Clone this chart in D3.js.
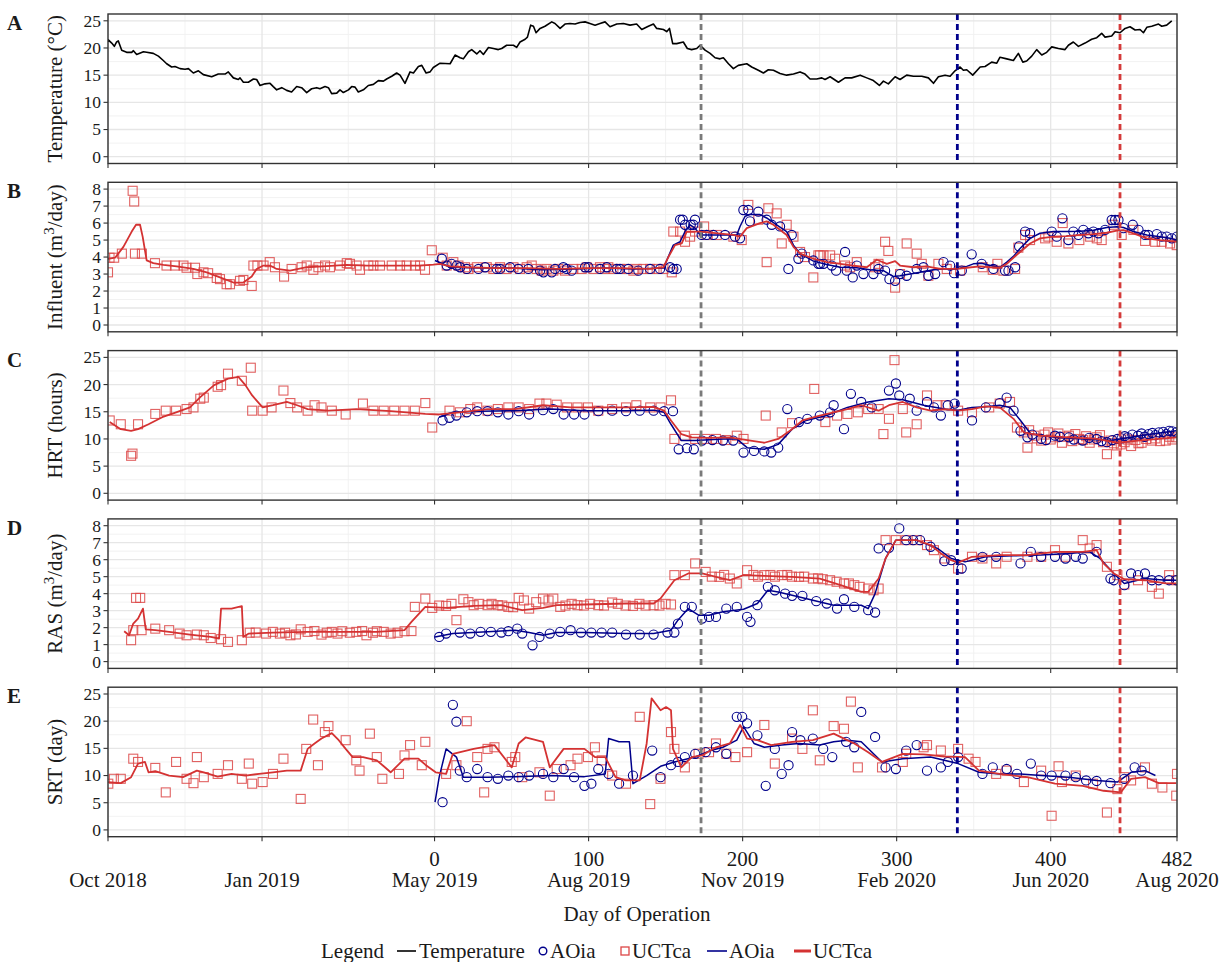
<!DOCTYPE html>
<html>
<head>
<meta charset="utf-8">
<script src="https://cdn.jsdelivr.net/npm/d3@7"></script>
<style>
  body { margin: 0; background: #fff; }
  svg { display: block; }
</style>
</head>
<body>
<svg id="chart" width="1225" height="962"></svg>
<script>
// ---------- x axis: day of operation (0 = start of operation) ----------
const xTickDays   = [-212, -112, 0, 100, 200, 300, 400, 482];
const xDayLabels  = ["", "", "0", "100", "200", "300", "400", "482"];
const xDateLabels = ["Oct 2018", "Jan 2019", "May 2019", "Aug 2019", "Nov 2019", "Feb 2020", "Jun 2020", "Aug 2020"];
// phase boundaries (day)
const phaseDays = [173, 339.4, 445];

// ---------- A: temperature (°C) ----------
const temperature = [
[-212,21.1],[-211.8,21.5],[-209.6,20.9],[-207.9,20.3],[-206.4,21.1],[-205.3,21.3],[-203.1,19.6],[-199.9,19.2],[-196.6,19.2],[-195.5,19.5],[-193.4,18.8],[-189,19.3],[-186.9,19.2],[-182.6,19.0],[-179.3,18.5],[-176.1,17.7],[-173.9,17.1],[-170.7,16.5],[-168.5,16.6],[-165.2,16.2],[-162,16.1],[-159.8,16.2],[-156.6,15.4],[-153.3,15.8],[-150.1,15.1],[-144.7,14.7],[-140.4,15.2],[-136,15.2],[-133.9,15.6],[-130.6,14.5],[-127.4,14.2],[-126.3,14.5],[-124.1,13.7],[-120.9,13.7],[-117.6,14.3],[-115.5,14.2],[-113.3,13.1],[-110.1,13.4],[-106.8,13.5],[-104.7,12.9],[-102.5,12.3],[-99.2,12.7],[-96,12.2],[-92.8,11.9],[-89.5,12.9],[-86.3,12.7],[-83,11.8],[-79.8,12.5],[-76.5,12.7],[-74.4,12.5],[-71.1,12.9],[-68.9,12.7],[-66.8,11.6],[-63.5,11.7],[-61.4,12.3],[-59.2,11.8],[-55.9,12.3],[-53.8,12.9],[-51.6,12.8],[-49.5,11.9],[-46.2,12.3],[-43,13.1],[-39.7,13.3],[-36.5,14.0],[-33.2,13.9],[-31.1,14.3],[-27.8,14.8],[-24.6,15.4],[-22.4,15.0],[-19.2,13.5],[-15.9,15.6],[-13.7,15.4],[-10.5,16.6],[-8.3,16.8],[-5.5,15.4],[-2.9,15.6],[-0.8,16.4],[3.6,17.2],[10.1,17.1],[13.3,18.7],[16.6,18.2],[18.7,18.0],[22,19.3],[24.1,19.7],[27.4,18.9],[29.5,19.5],[31.7,18.8],[35,20.1],[38.2,19.9],[41.4,19.7],[43.6,19.9],[46.8,20.5],[51.2,20.5],[53.3,20.1],[55.5,21.1],[58.8,21.6],[60.3,22.0],[62.4,24.2],[64.2,24.0],[65.9,22.8],[68.5,23.6],[71.7,24.0],[76.1,24.8],[78.2,24.5],[81.5,23.6],[84.7,24.4],[87.9,24.5],[91.2,24.4],[94.4,24.7],[97.7,24.8],[100.9,24.5],[104.2,24.2],[107.4,24.5],[110.7,24.8],[113.9,23.9],[118.3,24.4],[122.6,24.5],[126.9,24.2],[131.2,24.4],[134.5,23.4],[138.8,24.0],[142.1,24.4],[144.2,23.6],[148.6,23.4],[150.7,23.0],[152.5,23.6],[154.6,20.8],[157.2,20.8],[161.5,21.1],[164.1,19.9],[166.9,19.7],[170.2,19.9],[172.4,20.5],[175.6,19.6],[178.9,19.0],[182.1,18.2],[185.3,18.0],[187.5,18.2],[190.8,17.1],[194,16.2],[197.2,16.8],[202.7,17.1],[205.9,16.5],[210.2,15.9],[213.5,15.4],[216.7,16.0],[220,15.9],[224.3,15.3],[228.6,15.0],[233,15.2],[237.3,15.6],[240.5,15.2],[243.8,14.3],[248.1,14.3],[251.4,14.5],[253.5,14.2],[256.8,14.7],[262.2,13.7],[266.5,14.5],[270.8,14.5],[276.3,15.0],[280.6,14.5],[284.9,14.0],[288.8,13.1],[291.4,13.9],[294.6,13.4],[299,14.7],[302.2,14.2],[306.5,15.0],[310.9,14.8],[316.3,14.8],[320.6,14.5],[323.9,13.5],[327.1,14.7],[331.4,15.0],[334.7,14.8],[337.9,15.8],[341.2,16.5],[343.3,15.9],[345.5,16.0],[349.4,15.0],[354.2,16.5],[357.4,16.6],[361.7,17.4],[365,17.2],[367.1,18.3],[371.5,18.0],[375.8,17.7],[379,19.0],[381.9,17.4],[384.4,17.6],[387.7,18.5],[390.9,19.7],[394.2,18.7],[397.4,19.2],[400.7,20.2],[405,19.9],[409.3,19.7],[411.5,20.5],[414.7,21.1],[418,20.3],[422.3,20.9],[426.6,21.6],[429.9,21.9],[433.1,22.7],[435.3,22.0],[439.6,22.2],[441.8,23.0],[445,22.8],[448.3,23.6],[451.5,23.9],[454.8,23.3],[458,23.4],[460.2,22.8],[462.4,23.8],[465.6,24.0],[470,24.4],[472.1,24.0],[475.3,24.2],[478.6,25.0]
];

// ---------- B: influent (m3/day) ----------
const influentUCTca = [
[-212,3.1],[-211,3.96],[-208,3.96],[-203,4.2],[-196,7.9],[-195,7.27],[-194.5,4.2],[-190,4.2],[-181.5,3.64],[-174,3.5],[-168.5,3.5],[-163,3.5],[-161,3.37],[-155.5,3.37],[-154,3.0],[-150,3.1],[-147,3.05],[-141.4,2.77],[-139.3,2.7],[-135,2.4],[-132.8,2.4],[-126.3,2.6],[-124.1,2.65],[-118.7,2.3],[-117.6,3.5],[-115,3.5],[-111,3.5],[-107,3.7],[-103.6,3.4],[-97.7,2.85],[-92.8,3.3],[-86.3,3.4],[-83,3.5],[-78.7,3.25],[-75.4,3.4],[-71.1,3.5],[-67.9,3.4],[-61.4,3.5],[-57,3.64],[-54.9,3.6],[-50.6,3.5],[-48.4,3.25],[-43,3.5],[-39.7,3.5],[-35.4,3.5],[-27.8,3.5],[-22.4,3.5],[-18.1,3.5],[-12.7,3.5],
[-9.4,3.5],[-6.2,3.25],[-1.8,4.4],[5.3,3.96],[7.9,3.5],[12.2,3.7],[15.5,3.5],[19.8,3.4],[22,3.3],[27.4,3.4],[33.9,3.4],[38.2,3.3],[42.5,3.4],[46.8,3.3],[51.2,3.4],[55.5,3.3],[59.8,3.4],[63.1,3.5],[66.3,3.3],[69.6,3.2],[72.8,3.3],[77.1,3.2],[80.4,3.3],[84.7,3.2],[90.1,3.3],[95.5,3.3],[98.8,3.4],[103.1,3.3],[107.4,3.4],[110.7,3.3],[112.8,3.4],[116.1,3.3],[120.4,3.3],[124.8,3.3],[129.1,3.2],[131.2,3.3],[135.6,3.3],[139.9,3.3],[144.2,3.3],[148.6,3.3],[154,3.1],
[155,5.5],[159.4,5.5],[162.6,4.9],[165.9,5.2],[169.1,5.5],[175,5.8],[176.7,5.3],[183.2,5.3],[194,5.2],[199.4,5.0],[203.7,7.07],[210.2,6.2],[216.7,6.87],[222.1,6.57],[215.6,3.7],[225.4,4.8],[228.6,5.9],[233,5.2],[237.3,4.3],[240.5,4.0],[245.9,2.8],[249.2,4.1],
[250.3,4.1],[252.5,4.1],[256.8,4.1],[260,3.9],[266.5,3.5],[269.8,3.4],[274.1,3.7],[286,3.4],[288.2,3.6],[292.5,4.9],[294.6,4.36],[299,2.2],[302.2,3.0],[306.5,4.8],[313,4.2],[316.3,3.6],[320.6,2.9],[327.1,3.6],[332.5,3.3],[341.2,3.2],[355.9,3.4],[362.4,3.25],[365.4,3.6],[369.3,3.2],[376.9,3.3],[379,4.55],[383.4,5.3],[386.6,5.0],[396.4,5.1],[398.5,5.2],[403.9,4.9],[407.8,6.0],[411.5,4.8],[418.6,5.0],[425.6,5.2],[429.9,5.1],[433.1,5.0],[440.7,5.9],[446.1,5.3],[453.7,5.6],[461.3,4.95],[467.8,4.9],[472.1,4.9],[477.5,4.8],[481.8,4.7]
];
const influentAOia = [
[4.7,3.9],[7.9,3.5],[11.1,3.6],[14.4,3.5],[16.6,3.4],[20.9,3.3],[28.5,3.3],[32.8,3.4],[40.4,3.3],[42.5,3.3],[49,3.4],[54.4,3.3],[60.9,3.3],[68.5,3.2],[70.7,3.1],[76.1,3.1],[78.2,3.3],[83.6,3.4],[85.8,3.3],[89,3.2],[97.7,3.4],[99.9,3.4],[107.4,3.3],[111.8,3.4],[118.3,3.3],[120.4,3.3],[125.8,3.3],[132.3,3.2],[139.9,3.3],[146.4,3.3],[152.9,3.4],[155,3.3],[157.2,3.3],
[159.4,6.2],[161.1,6.2],[169.1,6.2],[162.6,5.9],[166.3,5.9],[168,5.9],[173.4,5.3],[176.7,5.3],[181,5.3],[188.6,5.3],[195.1,5.2],[198.3,5.1],[200.5,6.77],[203.7,6.77],[204.8,6.1],[210.2,6.67],[215.6,6.2],[218.9,5.9],[224.3,5.8],[229.7,3.3],[231.9,5.3],[236.2,3.9],[238.4,4.2],[245.9,3.8],[249.2,3.6],
[250.3,3.6],[252.5,3.6],[257.9,3.5],[260.7,3.2],[266.5,4.3],[267.6,3.2],[271.5,2.8],[274.1,3.5],[278.4,3.0],[284.9,3.0],[288.2,3.3],[292.5,3.2],[295.3,2.7],[299,2.6],[302.2,3.0],[306.5,2.9],[313,3.3],[317.4,3.4],[320.6,2.9],[325,3.0],[330.4,3.7],[334.7,3.5],[337.3,3.05],[342.3,3.2],[348.7,4.16],[355.2,3.6],[362.8,3.3],[370.4,3.2],[372.6,3.2],[376.9,3.4],[379.5,4.63],[383.4,5.5],[386.6,5.4],[400.7,5.5],[403.9,5.2],[407.6,6.28],[411.5,5.0],[414.7,5.5],[418,5.3],[421.2,5.6],[424.5,5.4],[427.7,5.5],[431,5.4],[435.3,5.6],[439.6,6.18],[441.8,6.18],[444,6.18],[447.2,5.7],[453.3,5.9],[457,5.6],[461.3,5.3],[463.4,5.3],[468.9,5.35],[472.1,5.2],[475.3,5.2],[478.6,5.1],[482,5.2]
];
const influentUCTcaLine = [
[-212,3.9],[-207.4,3.96],[-202,4.6],[-196.6,5.5],[-193.8,5.9],[-191.2,5.9],[-189.5,5.2],[-186.9,3.8],[-182.6,3.64],[-176.1,3.54],[-167.4,3.45],[-156.6,3.3],[-147.9,3.1],[-139.3,2.8],[-130.6,2.5],[-124.1,2.5],[-118.7,2.85],[-115.5,3.3],[-111.1,3.5],[-106.8,3.5],[-102.5,3.3],[-93.8,3.2],[-83,3.4],[-70,3.47],[-57,3.54],[-44,3.5],[-9.4,3.5],
[-0.8,3.55],[3.6,3.6],[10.1,3.45],[20.9,3.4],[40,3.35],[60,3.35],[80,3.3],[100,3.35],[120,3.35],[140,3.3],[148.6,3.4],[151.8,4.0],[156.1,4.7],[160.5,4.8],[163.7,5.5],[172.4,5.5],[194,5.3],[198.3,5.2],[202.7,5.7],[211.3,6.0],[215.6,6.1],[220,5.9],[228.6,5.3],[233,4.6],[237.3,4.2],
[246,3.9],[254.6,3.7],[263.3,3.6],[271.9,3.5],[280.6,3.4],[287.1,3.84],[293.6,3.6],[299,3.76],[302.2,3.5],[310.9,3.4],[319.5,3.45],[328.2,3.3],[339,3.3],[345.5,3.37],[354.2,3.45],[360.6,3.4],[367.1,3.37],[371.5,3.6],[375.8,3.96],[380.1,4.3],[386.6,4.8],[393.1,5.1],[401.8,5.2],[410.4,5.23],[419.1,5.3],[427.7,5.35],[436.4,5.43],[442.9,5.55],[447.2,5.58],[453.7,5.39],[462.4,5.1],[471,5.0],[482,4.9]
];
const influentAOiaLine = [
[0.3,3.8],[10.1,3.4],[30,3.35],[50,3.35],[70,3.25],[90,3.3],[110,3.35],[130,3.3],[148.6,3.35],[150.7,3.8],[155,4.7],[159.4,4.9],[162.6,5.5],[165.9,5.9],[169.1,5.7],[172.4,5.3],[196.2,5.3],[198.3,5.8],[201.6,6.4],[204.8,6.5],[211.3,6.5],[215.6,6.3],[222.1,5.9],[228.6,5.5],[233,4.7],[237.3,4.2],
[246,3.76],[254.6,3.56],[263.3,3.4],[274.1,3.37],[282.7,3.25],[291.4,3.2],[297.9,2.85],[302.2,2.9],[308.7,3.0],[315.2,3.1],[323.9,3.25],[330.4,3.3],[339,3.3],[345.5,3.45],[349.8,3.6],[355.2,3.64],[360.6,3.5],[367.1,3.4],[371.5,3.7],[375.8,4.04],[380.1,4.5],[386.6,5.1],[393.1,5.4],[401.8,5.5],[410.4,5.5],[419.1,5.52],[427.7,5.58],[436.4,5.74],[442.9,5.78],[447.2,5.74],[453.7,5.5],[462.4,5.3],[471,5.2],[477.5,5.1],[482,5.0]
];

// ---------- C: HRT (hours) ----------
const hrtUCTca = [
[-210.9,13.4],[-203.7,12.7],[-197,6.9],[-196.1,7.3],[-192.5,12.7],[-181.3,14.6],[-174.5,15.2],[-167.8,15.2],[-161,15.5],[-156.5,15.8],[-152.1,17.4],[-149.8,17.6],[-140.8,19.6],[-138.6,19.9],[-134.1,22.0],[-125.1,20.7],[-119.3,23.1],[-118.4,15.2],[-111.6,15.2],[-105.8,15.8],[-98.1,18.9],[-93.6,16.6],[-89.2,15.8],[-82.4,15.2],[-77.9,16.2],[-73.4,15.8],[-66.7,15.2],[-57.7,14.5],[-46.5,16.5],[-39.7,15.2],[-33,15.2],[-26.2,15.2],[-19.5,15.2],[-12.8,15.2],[-6,16.6],[-1.5,12.1],[9.7,15.2],[16.4,14.9],[23.2,15.5],[27.7,15.8],[34.4,15.2],[41.1,15.5],[47.9,15.8],[54.6,15.8],[61.4,15.5],[68.1,16.5],[72.6,16.5],[79.3,16.3],[86.1,15.8],[92.8,15.8],[99.6,15.8],[106.3,15.2],[115.3,15.5],[124.3,15.8],[131,16.2],[140,15.8],[146.7,15.8],[153.5,17.1],[155.7,10.0],[162.5,10.6],[169.2,10.0],[176,10.0],[182.7,10.0],[189.4,9.8],[196.2,10.6],[200.6,10.0],[215,14.3],[225.4,11.2],[232.1,12.9],[246.5,19.2],[253.7,13.1],[261.3,14.3],[268,14.6],[274.8,14.9],[281.5,15.5],[288.3,15.5],[291.4,10.9],[295,13.7],[298.6,24.5],[304,15.5],[306.2,11.2],[313,12.7],[319.7,18.0],[326.5,16.2],[331.8,16.2],[339.9,15.2],[348.9,14.9],[360.1,15.8],[366.9,16.5],[373.6,16.8],[378.1,12.1],[382.6,11.2],[384.9,8.4],[389.4,10.6],[393.8,9.7],[398.3,11.2],[402.8,10.3],[407.3,9.3],[411.8,10.6],[418.5,10.0],[425.3,9.3],[429.8,10.3],[436.5,7.2],[438.8,9.7],[445.5,9.0],[452.2,8.7],[459,9.3],[465.7,9.7],[474.7,9.7],[481.5,10.3],
[386,11.6],[391,10.1],[396,10.8],[400,9.9],[405,11.0],[409,10.4],[414,9.6],[416,10.9],[421,9.8],[423,10.5],[428,9.9],[432,10.7],[434,9.4],[441,9.2],[443,8.8],[448,9.4],[450,9.9],[455,9.8],[457,9.2],[462,10.0],[468,10.1],[471,9.6],[477,10.4],[479,9.9]
];
const hrtAOia = [
[5.2,13.4],[9.7,13.9],[14.2,14.3],[20.9,14.9],[27.7,15.1],[34.4,15.1],[41.1,14.9],[47.9,14.5],[54.6,15.1],[61.4,14.5],[70.4,15.3],[77.1,15.5],[83.8,14.5],[90.6,14.5],[97.3,14.5],[106.3,15.1],[115.3,15.2],[124.3,15.1],[133.2,15.2],[142.2,15.2],[149,15.1],[154.8,15.1],[158.5,8.1],[163.8,8.3],[168.3,8.1],[173.7,9.7],[180.4,9.8],[187.2,9.7],[193.9,9.7],[200.6,7.5],[207.4,7.8],[214.1,7.7],[218.6,7.5],[223.1,8.4],[229,15.5],[236.6,13.1],[242,13.7],[250.1,14.3],[256.8,14.9],[259.1,16.2],[265.8,11.8],[270.3,18.3],[277,16.8],[283.8,15.8],[295,18.9],[299.5,20.2],[301.7,18.0],[308.5,17.4],[313,15.2],[319.7,16.8],[324.2,15.8],[328.7,14.3],[333.2,16.2],[337.7,16.5],[348.9,13.4],[357.9,15.8],[366.9,16.6],[371.4,17.6],[375.9,15.2],[380.4,11.5],[384.9,10.3],[393.8,10.0],[402.8,10.6],[411.8,10.3],[420.8,9.7],[429.8,10.0],[436.5,9.4],[443.3,10.0],[450,10.3],[456.7,10.6],[463.5,10.9],[470.2,11.2],[476.9,11.5],[481.5,11.2],
[388,10.8],[397,9.8],[406,10.4],[415,9.9],[425,10.2],[433,9.6],[440,9.8],[446,10.1],[448,10.5],[453,10.8],[459,11.0],[461,10.4],[466,11.1],[468,10.7],[473,11.3],[475,10.9],[479,11.4]
];
const hrtUCTcaLine = [
[-210.9,13.1],[-203.7,11.8],[-197,11.5],[-192.5,11.8],[-185.7,12.7],[-176.8,14.0],[-167.8,14.9],[-158.8,15.8],[-152.1,17.7],[-143.1,19.9],[-134.1,21.1],[-127.3,21.4],[-122.8,19.9],[-118.4,18.0],[-111.6,15.8],[-104.9,16.2],[-95.9,16.8],[-89.2,16.2],[-82.4,15.5],[-68.9,15.2],[-50.8,15.5],[-28.5,15.1],[-6,14.6],[3,14.5],[16.4,14.9],[34.4,15.5],[52.4,15.5],[70.4,16.2],[88.3,15.8],[106.3,15.8],[124.3,15.8],[142.2,15.9],[149,15.2],[153.5,13.4],[160.2,10.9],[167,10.3],[178.2,10.2],[191.7,10.3],[205.1,9.7],[214.1,9.3],[223.1,10.0],[232.1,11.8],[238.8,13.4],[250.1,14.3],[259.1,14.9],[268,15.5],[277,16.2],[288.3,15.2],[295,16.2],[304,16.8],[313,15.8],[322,15.2],[331,15.5],[339.9,15.2],[348.9,15.5],[357.9,16.0],[366.9,15.8],[375.9,13.7],[382.6,11.2],[393.8,10.6],[411.8,10.3],[429.8,10.0],[443.3,9.3],[456.7,9.7],[470.2,10.0],[481.5,10.3]
];
const hrtAOiaLine = [
[3,14.0],[11.9,14.9],[29.9,15.1],[52.4,15.2],[74.8,15.5],[97.3,15.2],[124.3,15.2],[142.2,15.3],[149,14.9],[153.5,12.7],[160.2,9.7],[169.2,9.7],[187.2,10.0],[196.2,10.0],[202.9,8.4],[214.1,8.1],[223.1,9.0],[232.1,11.8],[241.1,13.4],[254.6,14.3],[268,15.8],[281.5,16.8],[295,17.4],[304,17.2],[317.5,16.2],[331,15.5],[339.9,15.3],[348.9,15.8],[357.9,15.9],[366.9,16.2],[373.6,15.8],[380.4,13.4],[387.1,10.9],[402.8,10.3],[420.8,10.0],[438.8,9.7],[452.2,10.3],[465.7,10.9],[481.5,11.5]
];

// ---------- D: RAS (m3/day) ----------
const rasUCTca = [
[-197,1.26],[-195.6,1.85],[-193.8,3.75],[-191.1,3.75],[-190.2,1.85],[-181.3,1.94],[-172.3,1.85],[-165.5,1.65],[-161,1.55],[-154.3,1.59],[-149.8,1.55],[-145.3,1.39],[-138.6,1.32],[-134.1,1.16],[-125.1,1.26],[-120,1.7],[-116.1,1.71],[-109.4,1.65],[-105,1.75],[-100.4,1.65],[-97,1.7],[-93.6,1.55],[-90,1.6],[-86.9,1.9],[-82.4,1.75],[-78,1.8],[-73.4,1.59],[-70,1.7],[-66.7,1.75],[-63,1.65],[-59.9,1.79],[-55,1.7],[-50.8,1.75],[-47,1.8],[-44.2,1.55],[-40,1.7],[-37.5,1.79],[-33,1.75],[-28.5,1.65],[-24,1.7],[-19.5,1.79],[-15,1.8],
[-12.8,3.22],[-6,3.71],[-1.5,3.16],[3,3.3],[7.5,3.28],[11,3.4],[14.2,2.44],[18.7,3.67],[22,3.5],[25.4,3.32],[29,3.4],[34.4,3.32],[37,3.4],[41.1,3.32],[44,3.3],[47.9,3.22],[51,3.2],[54.6,3.75],[58,3.6],[61.4,3.12],[66,3.5],[70.4,3.71],[74,3.6],[77.1,3.71],[81.6,3.22],[85,3.3],[89,3.4],[92.8,3.32],[97,3.3],[101,3.4],[106.3,3.32],[110,3.3],[115.3,3.48],[119,3.4],[124,3.3],[128.8,3.28],[133,3.4],[137,3.3],[142.2,3.32],[146,3.3],[150,3.4],[153.5,3.36],
[155.7,5.09],[162.5,5.09],[169.2,5.78],[176,5.28],[180,5.0],[184.9,4.99],[188,5.1],[191.7,4.89],[196.2,4.6],[202.9,5.38],[207,5.1],[210,5.0],[214.1,5.09],[218,5.1],[221,5.0],[225.4,5.09],[229,5.1],[232,5.0],[236.6,4.99],[240,5.0],[245.6,4.89],[249,4.9],[252,4.85],[256.8,4.79],[261,4.7],[265.8,4.6],[269,4.6],[272.5,4.5],[276,4.4],[281.5,4.3],[285,4.2],[288.3,4.3],
[292.8,7.15],[299.5,7.15],[306.2,7.15],[313,7.15],[319.7,6.86],[324.2,6.56],[331,6.07],[339.9,5.48],[348.9,6.17],[355.7,6.07],[364.6,5.78],[371.4,6.17],[384.9,6.17],[393.8,6.17],[402.8,6.56],[409.6,6.17],[420.8,7.15],[425.3,6.66],[429.8,6.86],[436.5,5.58],[443.3,5.09],[447.8,4.54],[456.7,4.79],[465.7,4.4],[470.2,4.0],[476.9,5.09],[481.5,4.79]
];
const rasAOia = [
[3,1.45],[7.5,1.65],[16.4,1.71],[23.2,1.65],[29.9,1.75],[36.6,1.75],[43.4,1.71],[47.9,1.79],[53.7,1.94],[56.9,1.65],[63.6,0.96],[68.1,1.45],[74.8,1.65],[81.6,1.75],[88.3,1.85],[95.1,1.71],[101.8,1.71],[108.5,1.71],[115.3,1.71],[124.3,1.59],[133.2,1.59],[142.2,1.59],[151.2,1.71],[155.7,1.71],[158,2.24],[162.5,3.22],[167,3.22],[173.7,2.53],[178.2,2.63],[182.7,2.63],[189.4,3.12],[196.2,3.22],[202.9,2.63],[205.1,2.34],[209.6,3.32],[216.4,4.4],[220.9,4.2],[227.6,4.0],[232.1,3.87],[238.8,3.87],[247.8,3.56],[254.6,3.42],[261.3,3.12],[265.8,3.67],[272.5,3.22],[281.5,3.03],[286,2.89],[288.3,6.66],[295,6.7],[301.7,7.84],[306.2,7.15],[310.7,7.15],[315.2,7.15],[322,6.76],[331,5.91],[335.4,5.97],[342.2,5.48],[355.7,6.17],[364.6,6.17],[380.4,5.78],[387.1,6.46],[393.8,6.17],[402.8,6.17],[409.6,6.07],[416.3,6.17],[420.8,6.07],[429.8,6.46],[438.8,4.89],[441,4.79],[447.8,4.5],[452.2,5.19],[456.7,5.09],[461.2,5.19],[465.7,4.79],[470.2,4.79],[476.9,4.79],[481.5,4.79]
];
const rasUCTcaLine = [
[-201.5,1.79],[-198.3,1.55],[-195.6,2.24],[-192.5,2.53],[-189.3,3.12],[-187.5,1.9],[-181.3,1.85],[-172.3,1.75],[-158.8,1.59],[-145.3,1.45],[-139.9,1.36],[-138.6,3.12],[-131.8,3.12],[-125.1,3.26],[-124.2,1.45],[-120.6,1.65],[-104.9,1.71],[-82.4,1.75],[-59.9,1.75],[-37.5,1.75],[-19.5,1.85],[-15,2.34],[-6,3.22],[7.5,3.16],[25.4,3.28],[43.4,3.32],[52.4,3.12],[56.9,3.03],[70.4,3.16],[79.3,3.32],[97.3,3.36],[124.3,3.42],[142.2,3.42],[146.7,3.71],[155.7,4.79],[164.7,5.19],[173.7,5.19],[182.7,4.99],[191.7,4.79],[200.6,5.09],[214.1,5.05],[232.1,4.99],[250.1,4.89],[263.6,4.5],[277,4.1],[281.5,4.1],[288.3,4.89],[292.8,6.07],[299.5,7.15],[313,7.15],[322,6.86],[328.7,6.37],[335.4,5.97],[339.9,5.83],[348.9,6.17],[366.9,6.27],[384.9,6.27],[402.8,6.46],[420.8,6.46],[429.8,6.56],[434.3,5.78],[441,5.19],[447.8,4.85],[461.2,4.79],[474.7,4.6],[481.5,4.6]
];
const rasAOiaLine = [
[0.3,1.45],[11.9,1.65],[34.4,1.75],[52.4,1.85],[61.4,1.71],[70.4,1.55],[79.3,1.71],[97.3,1.71],[124.3,1.65],[142.2,1.65],[153.5,1.85],[158,2.44],[164.7,3.12],[171.4,2.73],[178.2,2.73],[187.2,2.93],[200.6,3.08],[209.6,3.42],[216.4,4.2],[223.1,4.1],[232.1,3.91],[245.6,3.61],[259.1,3.32],[277,3.32],[281.5,3.12],[286,4.0],[292.8,6.07],[299.5,7.15],[313,7.15],[326.5,6.66],[335.4,6.07],[344.4,5.87],[357.9,6.17],[375.9,6.23],[393.8,6.27],[411.8,6.37],[425.3,6.46],[432,6.07],[441,5.19],[447.8,4.6],[461.2,4.89],[474.7,4.79],[481.5,4.79]
];

// ---------- E: SRT (day) ----------
const srtUCTca = [
[-211.8,8.5],[-208.2,9.4],[-203.7,9.4],[-195.6,13.1],[-192.5,12.5],[-181.3,11.4],[-174.5,6.9],[-167.8,12.5],[-161,9.4],[-156.5,8.6],[-154.3,13.4],[-149.8,9.7],[-140.8,10.3],[-134.1,11.9],[-125.1,9.4],[-120.6,12.2],[-118.4,8.5],[-111.6,8.8],[-104.9,10.3],[-98.1,13.1],[-86.9,5.7],[-83.3,14.9],[-78.8,20.3],[-75.7,11.9],[-71.2,18.0],[-68.9,19.1],[-57.7,16.5],[-50.8,12.8],[-48.7,10.9],[-42,17.7],[-37.5,13.4],[-33.9,9.4],[-23.1,10.3],[-19.5,13.7],[-15.9,15.6],[-8.3,11.9],[-6,16.2],[7.5,10.3],[14.2,11.9],[20.9,20.0],[27.7,13.4],[32.2,6.9],[34.4,14.9],[38.9,15.2],[50.1,12.5],[52.4,13.4],[56.9,9.7],[68.1,10.6],[74.8,6.3],[79.3,11.2],[88.3,11.9],[92.8,13.1],[99.6,13.4],[104.1,15.2],[108.5,12.8],[115.3,10.0],[124.3,8.5],[133.2,20.8],[140,4.75],[146.7,9.4],[153.5,18.0],[155.7,14.9],[162.5,11.5],[171.4,14.0],[178.2,14.3],[182.7,15.9],[189.4,14.0],[195.3,13.4],[202.9,14.3],[214.1,19.3],[220.9,12.2],[232.1,16.8],[238.8,14.9],[245.6,22.0],[250.1,12.8],[259.1,19.1],[265.8,18.6],[270.3,23.6],[274.8,11.5],[290.5,11.5],[304,12.5],[306.2,14.0],[317.5,15.2],[319.7,15.6],[328.7,14.6],[339.9,14.9],[346.7,13.1],[351.2,12.5],[364.6,10.3],[371.4,10.9],[382.6,8.8],[393.8,10.9],[405.1,11.7],[400.6,2.6],[407.3,8.8],[416.3,10.0],[427.5,8.5],[436.5,3.2],[443.3,7.5],[447.8,9.7],[452.2,9.1],[461.2,11.5],[465.7,8.5],[472.5,7.8],[481.5,6.3],[482,10.3]
];
const srtAOia = [
[5.2,5.1],[11.9,23.0],[14.2,19.9],[16.4,10.9],[20.9,9.7],[27.7,11.2],[34.4,9.7],[41.1,9.4],[47.9,10.0],[54.6,9.7],[61.4,10.0],[70.4,10.3],[77.1,9.7],[83.8,11.2],[90.6,9.7],[97.3,8.1],[101.8,8.5],[106.3,11.2],[113,10.3],[119.8,8.5],[128.8,10.0],[141.3,14.6],[146.7,9.7],[153.5,11.9],[158,12.5],[162.5,13.4],[169.2,14.0],[176,14.3],[182.7,15.2],[189.4,14.0],[196.2,20.8],[199.7,20.8],[202.9,19.6],[209.6,17.4],[215,8.1],[220.9,14.9],[225.4,10.3],[229.8,11.9],[232.1,18.0],[237.5,16.5],[245.6,16.8],[252.3,14.9],[258.2,13.4],[267.2,16.2],[272.5,15.2],[277,21.7],[286,17.1],[292.8,11.5],[299.5,11.2],[306.2,14.6],[313,15.6],[319.7,10.9],[328.7,11.5],[333.2,12.5],[339.9,13.4],[355.7,10.3],[362.4,11.5],[371.4,11.2],[378.1,10.3],[387.1,12.2],[393.8,10.0],[400.6,10.0],[409.6,10.0],[416.3,9.7],[423,9.1],[429.8,9.0],[438.8,8.6],[447.8,9.4],[454.5,11.5],[459,10.9]
];
const srtUCTcaLine = [
[-211.8,8.8],[-203.7,8.6],[-197,9.7],[-192.5,12.2],[-188,12.5],[-185.7,10.6],[-181.3,10.8],[-172.3,10.0],[-163.3,9.7],[-154.3,10.9],[-149.8,10.6],[-140.8,9.8],[-131.8,10.3],[-122.8,10.0],[-113.9,10.3],[-104.9,10.6],[-95.9,10.9],[-86.9,10.9],[-82.4,14.9],[-77.9,15.9],[-73.4,16.8],[-66.7,17.8],[-62.2,16.5],[-57.7,14.9],[-53.2,13.4],[-46.5,13.4],[-37.5,12.8],[-33,11.7],[-28.5,10.6],[-19.5,13.1],[-10.5,13.1],[-6,12.0],[0.7,10.6],[7.5,10.3],[11.9,14.0],[25.4,14.9],[38.9,15.6],[50.1,11.5],[54.6,15.9],[59.1,17.0],[70.4,16.2],[74.8,11.5],[83.8,14.9],[97.3,14.9],[104.1,13.4],[110.8,13.4],[117.5,9.7],[124.3,9.1],[133.2,9.1],[137.7,15.9],[140.9,24.2],[146.7,22.0],[150.3,22.6],[153.5,22.0],[154.8,14.9],[160.2,11.5],[167,13.4],[173.7,13.7],[182.7,15.2],[191.7,15.9],[198.4,19.3],[202.9,16.8],[209.6,16.5],[218.6,15.6],[232.1,16.2],[245.6,16.5],[259.1,17.7],[265.8,16.8],[272.5,15.9],[281.5,14.3],[290.5,12.5],[304,14.0],[317.5,13.9],[331,13.5],[344.4,13.4],[353.4,10.9],[366.9,10.3],[384.9,9.7],[402.8,8.5],[420.8,8.1],[434.3,7.2],[445.5,6.9],[452.2,9.4],[461.2,9.7],[470.2,8.6],[481.5,8.6]
];
const srtAOiaLine = [
[0.3,5.1],[3,9.7],[7.5,14.9],[14.2,13.4],[18.7,9.7],[34.4,9.7],[52.4,9.8],[74.8,10.0],[97.3,9.8],[110.8,10.3],[113,16.8],[119.8,16.2],[126.5,16.2],[128.8,8.5],[137.7,10.0],[146.7,11.7],[155.7,12.5],[169.2,13.4],[178.2,14.5],[187.2,15.2],[196.2,16.5],[200.6,19.0],[207.4,15.9],[214.1,15.2],[225.4,15.6],[236.6,15.9],[250.1,15.6],[259.1,16.2],[268,16.5],[277,16.2],[290.5,12.5],[304,13.1],[322,13.4],[339.9,12.2],[353.4,10.6],[366.9,10.3],[380.4,10.3],[393.8,10.0],[411.8,9.7],[429.8,9.1],[443.3,8.8],[452.2,10.6],[461.2,10.9],[468,10.0]
];

// ---------- drawing ----------
const FONT = "Liberation Serif";
const RED = "#d43232", RED_PT = "#dc4646", BLUE = "#00008b";
const svg = d3.select("#chart");
const left = 108, right = 1177;
const x = d3.scaleLinear().domain([-212, 482]).range([left, right]);
const xMinor = d3.pairs(xTickDays).map(([a, b]) => (a + b) / 2);
const panelH = 149.5;
const panels = [
  { letter: "A", top: 14,    domain: [-1.25, 26.25], ticks: d3.range(0, 26, 5),  minor: d3.range(2.5, 25, 5), title: ["Temperature (°C)"],
    lines: [[temperature, "#000", 1.6]] },
  { letter: "B", top: 182.3, domain: [-0.4, 8.4],    ticks: d3.range(0, 9),      minor: d3.range(0.5, 8, 1), title: ["Influent (m", "3", "/day)"],
    squares: influentUCTca, circles: influentAOia, lines: [[influentAOiaLine, BLUE, 1.5], [influentUCTcaLine, RED, 1.8]] },
  { letter: "C", top: 350.6, domain: [-1.25, 26.25], ticks: d3.range(0, 26, 5),  minor: d3.range(2.5, 25, 5), title: ["HRT (hours)"],
    squares: hrtUCTca, circles: hrtAOia, lines: [[hrtAOiaLine, BLUE, 1.5], [hrtUCTcaLine, RED, 1.8]] },
  { letter: "D", top: 518.9, domain: [-0.4, 8.4],    ticks: d3.range(0, 9),      minor: d3.range(0.5, 8, 1), title: ["RAS (m", "3", "/day)"],
    squares: rasUCTca, circles: rasAOia, lines: [[rasAOiaLine, BLUE, 1.5], [rasUCTcaLine, RED, 1.8]] },
  { letter: "E", top: 687.2, domain: [-1.25, 26.25], ticks: d3.range(0, 26, 5),  minor: d3.range(2.5, 25, 5), title: ["SRT (day)"],
    squares: srtUCTca, circles: srtAOia, lines: [[srtAOiaLine, BLUE, 1.5], [srtUCTcaLine, RED, 1.8]] }
];
const phaseColors = ["#7a7a7a", BLUE, "#d43a3a"];

panels.forEach((p, i) => {
  const top = p.top, bottom = top + panelH;
  const y = d3.scaleLinear().domain(p.domain).range([bottom, top]);
  const g = svg.append("g");
  const clipId = "clip" + i;
  svg.append("clipPath").attr("id", clipId).append("rect")
    .attr("x", left).attr("y", top).attr("width", right - left).attr("height", panelH);

  // grid
  const grid = g.append("g");
  grid.selectAll(".hm").data(p.minor).join("line")
    .attr("x1", left).attr("x2", right).attr("y1", d => y(d)).attr("y2", d => y(d))
    .attr("stroke", "#f0f0f0").attr("stroke-width", 0.9);
  grid.selectAll(".vm").data(xMinor).join("line")
    .attr("x1", d => x(d)).attr("x2", d => x(d)).attr("y1", top).attr("y2", bottom)
    .attr("stroke", "#f0f0f0").attr("stroke-width", 0.9);
  grid.selectAll(".hM").data(p.ticks).join("line")
    .attr("x1", left).attr("x2", right).attr("y1", d => y(d)).attr("y2", d => y(d))
    .attr("stroke", "#e6e6e6").attr("stroke-width", 1.3);
  grid.selectAll(".vM").data(xTickDays).join("line")
    .attr("x1", d => x(d)).attr("x2", d => x(d)).attr("y1", top).attr("y2", bottom)
    .attr("stroke", "#e6e6e6").attr("stroke-width", 1.3);

  const data = g.append("g").attr("clip-path", `url(#${clipId})`);
  if (p.squares) {
    data.selectAll("rect.pt").data(p.squares).join("rect")
      .attr("x", d => x(d[0]) - 4.5).attr("y", d => y(d[1]) - 4.5)
      .attr("width", 9).attr("height", 9)
      .attr("fill", "none").attr("stroke", RED_PT).attr("stroke-width", 1.1).attr("stroke-opacity", 0.85);
  }
  if (p.circles) {
    data.selectAll("circle.pt").data(p.circles).join("circle")
      .attr("cx", d => x(d[0])).attr("cy", d => y(d[1])).attr("r", 4.6)
      .attr("fill", "none").attr("stroke", BLUE).attr("stroke-width", 1.1);
  }
  const line = d3.line().x(d => x(d[0])).y(d => y(d[1]));
  p.lines.forEach(([series, color, w]) => {
    data.append("path").datum(series).attr("d", line)
      .attr("fill", "none").attr("stroke", color).attr("stroke-width", w)
      .attr("stroke-linejoin", "round");
  });

  // phase markers
  g.selectAll(".phase").data(phaseDays).join("line")
    .attr("x1", d => x(d)).attr("x2", d => x(d)).attr("y1", top).attr("y2", bottom)
    .attr("stroke", (d, k) => phaseColors[k]).attr("stroke-width", 2.8)
    .attr("stroke-dasharray", "6,4");

  // border
  g.append("rect").attr("x", left).attr("y", top).attr("width", right - left).attr("height", panelH)
    .attr("fill", "none").attr("stroke", "#333").attr("stroke-width", 1.4);

  // y axis ticks and labels
  g.selectAll(".yt").data(p.ticks).join("line")
    .attr("x1", left - 4.5).attr("x2", left).attr("y1", d => y(d)).attr("y2", d => y(d))
    .attr("stroke", "#333").attr("stroke-width", 1.1);
  g.selectAll(".yl").data(p.ticks).join("text")
    .attr("x", left - 7).attr("y", d => y(d)).attr("dy", "0.34em")
    .attr("text-anchor", "end").attr("font-size", 17.5).text(d => d);

  // x ticks
  g.selectAll(".xt").data(xTickDays).join("line")
    .attr("x1", d => x(d)).attr("x2", d => x(d)).attr("y1", bottom).attr("y2", bottom + 4.5)
    .attr("stroke", "#333").attr("stroke-width", 1.1);

  // y title
  const cy = (top + bottom) / 2;
  const t = g.append("text").attr("transform", `translate(62,${cy}) rotate(-90)`)
    .attr("text-anchor", "middle").attr("font-size", 21);
  if (p.title.length === 1) t.text(p.title[0]);
  else {
    t.append("tspan").text(p.title[0]);
    t.append("tspan").attr("dy", -8).attr("font-size", 15).text(p.title[1]);
    t.append("tspan").attr("dy", 8).text(p.title[2]);
  }

  // panel letter
  g.append("text").attr("x", 7).attr("y", top + 16).attr("font-size", 21)
    .attr("font-weight", "bold").text(p.letter);

  // x labels on bottom panel
  if (i === panels.length - 1) {
    g.selectAll(".xd").data(xTickDays).join("text")
      .attr("x", d => x(d)).attr("y", 866).attr("text-anchor", "middle").attr("font-size", 21)
      .text((d, k) => xDayLabels[k]);
    g.selectAll(".xm").data(xTickDays).join("text")
      .attr("x", d => x(d)).attr("y", 887).attr("text-anchor", "middle").attr("font-size", 21)
      .text((d, k) => xDateLabels[k]);
  }
});

svg.append("text").attr("x", 637).attr("y", 921).attr("text-anchor", "middle")
  .attr("font-size", 21).text("Day of Operation");

// legend
const lg = svg.append("g").attr("font-size", 21);
const ly = 958, lm = 951;
lg.append("text").attr("x", 321).attr("y", ly).text("Legend");
lg.append("line").attr("x1", 397).attr("x2", 416).attr("y1", lm).attr("y2", lm).attr("stroke", "#000").attr("stroke-width", 1.6);
lg.append("text").attr("x", 419).attr("y", ly).text("Temperature");
lg.append("circle").attr("cx", 543).attr("cy", lm).attr("r", 3.8).attr("fill", "none").attr("stroke", BLUE).attr("stroke-width", 1.4);
lg.append("text").attr("x", 550).attr("y", ly).text("AOia");
lg.append("rect").attr("x", 621).attr("y", lm - 4).attr("width", 8).attr("height", 8).attr("fill", "none").attr("stroke", RED_PT).attr("stroke-width", 1.3);
lg.append("text").attr("x", 632).attr("y", ly).text("UCTca");
lg.append("line").attr("x1", 707).attr("x2", 727).attr("y1", lm).attr("y2", lm).attr("stroke", BLUE).attr("stroke-width", 1.6);
lg.append("text").attr("x", 729).attr("y", ly).text("AOia");
lg.append("line").attr("x1", 794).attr("x2", 811).attr("y1", lm).attr("y2", lm).attr("stroke", RED).attr("stroke-width", 3);
lg.append("text").attr("x", 813).attr("y", ly).text("UCTca");

// typeface and ink colour for every label
svg.selectAll("text").attr("font-family", FONT).attr("fill", "#1a1a1a");
</script>
</body>
</html>
